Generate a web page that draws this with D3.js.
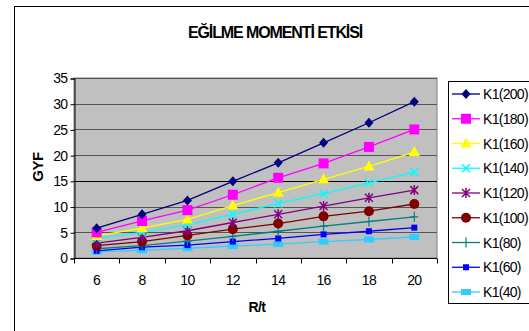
<!DOCTYPE html>
<html>
<head>
<meta charset="utf-8">
<script src="https://cdn.jsdelivr.net/npm/d3@7"></script>
<style>
  body { margin: 0; background: #fff; }
  svg { font-family: "Liberation Sans", Arial, sans-serif; }
</style>
</head>
<body>
<div id="chart"></div>
<script>
// R/t categories
const categories = [6, 8, 10, 12, 14, 16, 18, 20];
const seriesNames = ["K1(200)", "K1(180)", "K1(160)", "K1(140)", "K1(120)", "K1(100)", "K1(80)", "K1(60)", "K1(40)"];

// values
const k200 = [5.8, 8.5, 11.2, 14.9, 18.5, 22.4, 26.3, 30.4];
const k180 = [5.0, 7.2, 9.3, 12.3, 15.6, 18.4, 21.6, 25.0];
const k160 = [4.3, 5.8, 7.5, 10.2, 12.7, 15.3, 17.8, 20.6];
const k140 = [3.8, 5.0, 6.5, 8.5, 10.6, 12.5, 14.6, 16.7];
const k120 = [2.9, 4.0, 5.3, 6.9, 8.5, 10.1, 11.7, 13.2];
const k100 = [2.4, 3.2, 4.4, 5.6, 6.7, 8.1, 9.1, 10.5];
const k80 = [1.8, 2.4, 3.3, 4.2, 5.2, 6.2, 7.1, 8.0];
const k60 = [1.4, 2.1, 2.5, 3.2, 3.8, 4.6, 5.2, 5.9];
const k40 = [1.2, 1.5, 1.9, 2.3, 2.7, 3.2, 3.6, 4.1];

const yTicks = [0, 5, 10, 15, 20, 25, 30, 35];

const allValues = [k200, k180, k160, k140, k120, k100, k80, k60, k40];
const colors = ["#000080", "#FF00FF", "#FFFF00", "#00FFFF", "#800080", "#800000", "#008080", "#0000FF", "#33CCFF"];
const markers = ["diamond", "square", "triangle", "x", "star", "circle", "plus", "smallsquare", "bar"];

const series = seriesNames.map((name, i) => ({
    name: name,
    color: colors[i],
    marker: markers[i],
    values: categories.map((c, j) => ({ cat: c, value: allValues[i][j] }))
}));

const W = 529, H = 331;
const plot = { left: 74, right: 437, top: 78, bottom: 258 };

const svg = d3.select("#chart").append("svg")
    .attr("width", W)
    .attr("height", H);

// outer frame
svg.append("rect")
    .attr("x", 14.5).attr("y", 6.5)
    .attr("width", 540).attr("height", 360)
    .attr("fill", "#fff")
    .attr("stroke", "#000")
    .attr("stroke-width", 1);

// title
svg.append("text")
    .attr("x", 275).attr("y", 38)
    .attr("text-anchor", "middle")
    .attr("font-size", 16)
    .attr("font-weight", "bold")
    .attr("letter-spacing", -1.1)
    .text("EĞİLME MOMENTİ ETKİSİ");

const x = d3.scaleBand()
    .domain(categories)
    .range([plot.left, plot.right])
    .padding(0);

const y = d3.scaleLinear()
    .domain([0, 35])
    .range([plot.bottom, plot.top]);

// plot area
svg.append("rect")
    .attr("x", plot.left).attr("y", plot.top)
    .attr("width", plot.right - plot.left)
    .attr("height", plot.bottom - plot.top)
    .attr("fill", "#C0C0C0")
    .attr("stroke", "#808080");

// gridlines
svg.append("g")
    .selectAll("line")
    .data(yTicks.filter(d => d > 0))
    .join("line")
    .attr("x1", plot.left).attr("x2", plot.right)
    .attr("y1", d => Math.round(y(d)) + 0.5)
    .attr("y2", d => Math.round(y(d)) + 0.5)
    .attr("stroke", d => d === 15 ? "#000" : "#555")
    .attr("stroke-width", 1);

// y axis
const yAxis = d3.axisLeft(y)
    .tickValues(yTicks)
    .tickSize(4)
    .tickPadding(3);

const gy = svg.append("g")
    .attr("transform", "translate(" + (plot.left + 0.5) + ",0.5)")
    .call(yAxis);
gy.selectAll("text").attr("font-size", 14).attr("fill", "#000")
    .attr("font-family", "Liberation Sans, Arial, sans-serif")
    .attr("letter-spacing", -0.6);
gy.select(".domain").attr("stroke", "#000");

// x axis with ticks at category boundaries
const gx = svg.append("g")
    .attr("transform", "translate(0," + (plot.bottom + 0.5) + ")");
gx.append("line")
    .attr("x1", plot.left).attr("x2", plot.right)
    .attr("stroke", "#000");
const boundaries = categories.map(c => x(c)).concat([plot.right]);
gx.selectAll("line.tick")
    .data(boundaries)
    .join("line")
    .attr("class", "tick")
    .attr("x1", d => Math.round(d) + 0.5).attr("x2", d => Math.round(d) + 0.5)
    .attr("y1", 0).attr("y2", 5)
    .attr("stroke", "#000");
gx.selectAll("text")
    .data(categories)
    .join("text")
    .attr("x", d => x(d) + x.bandwidth() / 2)
    .attr("y", 26)
    .attr("text-anchor", "middle")
    .attr("font-size", 14)
    .attr("letter-spacing", -0.6)
    .text(d => d);

// axis titles
svg.append("text")
    .attr("transform", "translate(43,167) rotate(-90)")
    .attr("text-anchor", "middle")
    .attr("font-size", 15)
    .attr("font-weight", "bold")
    .attr("letter-spacing", -0.4)
    .text("GYF");

svg.append("text")
    .attr("x", 257).attr("y", 312)
    .attr("text-anchor", "middle")
    .attr("font-size", 14)
    .attr("font-weight", "bold")
    .attr("letter-spacing", -0.6)
    .text("R/t");

// marker drawing
function drawMarker(g, type, color) {
    switch (type) {
        case "diamond":
            g.append("path").attr("d", "M0,-5L4.5,0L0,5L-4.5,0Z").attr("fill", color);
            break;
        case "square":
            g.append("rect").attr("x", -5).attr("y", -5).attr("width", 10).attr("height", 10).attr("fill", color);
            break;
        case "triangle":
            g.append("path").attr("d", "M0,-6L5.5,4L-5.5,4Z").attr("fill", color);
            break;
        case "x":
            g.append("path").attr("d", "M-4,-4L4,4M-4,4L4,-4").attr("stroke", color).attr("stroke-width", 1.5);
            break;
        case "star":
            g.append("path").attr("d", "M-4,-4L4,4M-4,4L4,-4M0,-5L0,5").attr("stroke", color).attr("stroke-width", 1.5);
            break;
        case "circle":
            g.append("circle").attr("r", 5).attr("fill", color);
            break;
        case "plus":
            g.append("path").attr("d", "M-4,0L4,0M0,-5L0,5").attr("stroke", color).attr("stroke-width", 1.2);
            break;
        case "smallsquare":
            g.append("rect").attr("x", -3).attr("y", -3).attr("width", 6).attr("height", 6).attr("fill", color);
            break;
        case "bar":
            g.append("rect").attr("x", -5).attr("y", -3).attr("width", 10).attr("height", 6).attr("fill", color);
            break;
    }
}

const line = d3.line()
    .x(d => x(d.cat) + x.bandwidth() / 2)
    .y(d => y(d.value));

// draw series from bottom to top so K1(200) is on top
const seriesG = svg.append("g");
series.slice().reverse().forEach(s => {
    seriesG.append("path")
        .datum(s.values)
        .attr("fill", "none")
        .attr("stroke", s.color)
        .attr("stroke-width", 1.3)
        .attr("d", line);
    s.values.forEach(d => {
        const g = seriesG.append("g")
            .attr("transform", "translate(" + (x(d.cat) + x.bandwidth() / 2) + "," + y(d.value) + ")");
        drawMarker(g, s.marker, s.color);
    });
});

// legend
const legend = svg.append("g");
legend.append("rect")
    .attr("x", 448.5).attr("y", 81.5)
    .attr("width", 100).attr("height", 222)
    .attr("fill", "#fff")
    .attr("stroke", "#000");

const legendY = d3.scalePoint()
    .domain(seriesNames)
    .range([94, 292]);

series.forEach(s => {
    const ly = legendY(s.name);
    legend.append("line")
        .attr("x1", 452).attr("x2", 480)
        .attr("y1", ly).attr("y2", ly)
        .attr("stroke", s.color)
        .attr("stroke-width", 1.3);
    const g = legend.append("g").attr("transform", "translate(466," + ly + ")");
    drawMarker(g, s.marker, s.color);
    legend.append("text")
        .attr("x", 483).attr("y", ly + 5)
        .attr("font-size", 14)
        .attr("letter-spacing", -0.7)
        .text(s.name);
});
</script>
</body>
</html>
